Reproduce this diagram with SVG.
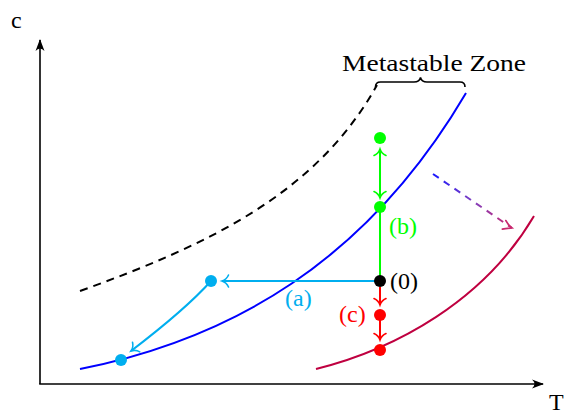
<svg xmlns="http://www.w3.org/2000/svg" width="569" height="416" viewBox="0 0 569 416">
<style>
text{font-family:"Liberation Serif","Times New Roman",serif;}
.lbl{font-size:24px;}
.ax{stroke:#000;stroke-width:1.6;fill:none;}
.cv{fill:none;stroke-width:2;}
.ln{fill:none;stroke-width:2;}
</style>
<defs>
<marker id="ah" markerUnits="userSpaceOnUse" markerWidth="12" markerHeight="12" refX="0" refY="0" orient="auto" overflow="visible">
<path d="M-11,-4.5 Q-6,0 -11,4.5 L1,0 Z" fill="#000"/>
</marker>
<marker id="toC" markerUnits="userSpaceOnUse" markerWidth="10" markerHeight="14" refX="0" refY="0" orient="auto-start-reverse" overflow="visible">
<path d="M-6.5,-6 C-5,-2.5 -1.5,-0.5 0,0 C-1.5,0.5 -5,2.5 -6.5,6" fill="none" stroke="#00AEEF" stroke-width="1.6" stroke-linecap="round"/>
</marker>
<marker id="toG" markerUnits="userSpaceOnUse" markerWidth="10" markerHeight="14" refX="0" refY="0" orient="auto-start-reverse" overflow="visible">
<path d="M-6.5,-6 C-5,-2.5 -1.5,-0.5 0,0 C-1.5,0.5 -5,2.5 -6.5,6" fill="none" stroke="#00FF00" stroke-width="1.6" stroke-linecap="round"/>
</marker>
<marker id="toR" markerUnits="userSpaceOnUse" markerWidth="10" markerHeight="14" refX="0" refY="0" orient="auto-start-reverse" overflow="visible">
<path d="M-6.5,-6 C-5,-2.5 -1.5,-0.5 0,0 C-1.5,0.5 -5,2.5 -6.5,6" fill="none" stroke="#FF0000" stroke-width="1.6" stroke-linecap="round"/>
</marker>
<linearGradient id="gp" gradientUnits="userSpaceOnUse" x1="433" y1="174" x2="512" y2="228">
<stop offset="0" stop-color="#1a1aff"/>
<stop offset="0.5" stop-color="#8040c0"/>
<stop offset="1" stop-color="#c8286e"/>
</linearGradient>
</defs>

<g id="axes">
<line class="ax" x1="40" y1="384" x2="40" y2="40" marker-end="url(#ah)"/>
<line class="ax" x1="39.2" y1="384" x2="543" y2="384" marker-end="url(#ah)"/>
<text x="11" y="28" class="lbl">c</text>
<text x="549" y="410" class="lbl">T</text>
</g>

<g id="curves">
<path id="metastable-limit" class="cv" stroke="#000" stroke-dasharray="8 6" d="M80,291 C210,244.2 317,193 377,85"/>
<path id="solubility" class="cv" stroke="#0000FF" d="M80,369 C230,339 366,263 466,93"/>
<path id="shifted" class="cv" stroke="#BF0040" d="M316,369 C396,349 484,301 534,216"/>
</g>

<g id="brace">
<path d="M375.5,87 Q375.5,82 380.5,82 L414,82 Q419.5,82 420.5,77.5 Q421.5,82 427,82 L460,82 Q465,82 465,87" fill="none" stroke="#000" stroke-width="1.6"/>
<text x="434" y="71" text-anchor="middle" font-size="24" textLength="184" lengthAdjust="spacingAndGlyphs">Metastable Zone</text>
</g>

<g id="connectors">
<line class="ln" stroke="#00FF00" x1="380" y1="281" x2="380" y2="207"/>
<line class="ln" stroke="#00FF00" x1="380" y1="149" x2="380" y2="198" marker-start="url(#toG)" marker-end="url(#toG)"/>
<line class="ln" stroke="#FF0000" x1="380" y1="287" x2="380" y2="305" marker-end="url(#toR)"/>
<line class="ln" stroke="#FF0000" x1="380" y1="318" x2="380" y2="340" marker-end="url(#toR)"/>
<line class="ln" stroke="#00AEEF" x1="380" y1="281" x2="222" y2="281" marker-end="url(#toC)"/>
<path class="ln" stroke="#00AEEF" d="M211,281 Q186,309 131,351" marker-end="url(#toC)"/>
<line class="ln" stroke="url(#gp)" stroke-dasharray="7 6" x1="433" y1="174" x2="512" y2="228"/>
<path d="M505.8,220.5 C507.5,223.5 510.2,226.7 512,228 C509.8,228.2 505.6,228.4 502.3,229.1" fill="none" stroke="#C8286E" stroke-width="1.6" stroke-linecap="round"/>
</g>

<g id="node-0">
<circle cx="380" cy="281" r="6" fill="#000"/>
<text x="390" y="289" class="lbl">(0)</text>
</g>
<g id="node-b-top"><circle cx="380" cy="138" r="6" fill="#00FF00"/></g>
<g id="node-b">
<circle cx="380" cy="207" r="6" fill="#00FF00"/>
<text x="389" y="234" class="lbl" fill="#00FF00">(b)</text>
</g>
<g id="node-c">
<circle cx="380" cy="315" r="6" fill="#FF0000"/>
<text x="339" y="322" class="lbl" fill="#FF0000">(c)</text>
</g>
<g id="node-c-bottom"><circle cx="380" cy="350" r="6" fill="#FF0000"/></g>
<g id="node-a">
<circle cx="211" cy="281" r="6" fill="#00AEEF"/>
<text x="285" y="306" class="lbl" fill="#00AEEF">(a)</text>
</g>
<g id="node-a-bottom"><circle cx="121" cy="360" r="6" fill="#00AEEF"/></g>
</svg>
